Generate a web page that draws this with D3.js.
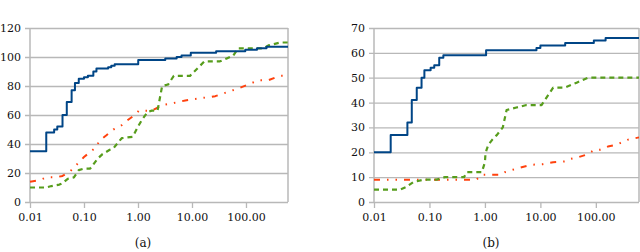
<!DOCTYPE html>
<html>
<head>
<meta charset="utf-8">
<script src="https://cdn.jsdelivr.net/npm/d3@7"></script>
<style>
  body { margin: 0; background: #fff; }
</style>
</head>
<body>
<svg id="chart" width="640" height="252"></svg>
<script>
// ============
// DATA
// ============

// x tick values (log scale) shared by both panels
const xTicks = [0.01, 0.1, 1, 10, 100];
const xMax = 600;

// panel (a)
const aYTicks = [0, 20, 40, 60, 80, 100, 120];
const aBlue = [[0.01,35],[0.02,48],[0.028,50],[0.032,52],[0.04,60],[0.048,69],[0.059,77],[0.068,82],
  [0.08,85],[0.1,86],[0.118,87],[0.149,90],[0.17,92],[0.28,93],[0.32,94],[0.37,95],[1.01,98],
  [3.2,99],[5.2,100],[6.4,101],[9.5,103],[28,104],[97,105],[160,106],[240,107],[600,107]];
const aGreen = [[0.01,10],[0.02,10],[0.025,11],[0.035,12],[0.04,13],[0.05,16],[0.065,17],[0.08,22],
  [0.1,23],[0.13,23],[0.18,30],[0.22,33],[0.3,36],[0.35,37],[0.45,42],[0.5,44],[0.8,45],[1.0,52],
  [1.2,57],[1.5,62],[1.8,63],[2.3,63],[2.8,80],[3.6,81],[4.6,87],[9.2,87],[17,97],[33,97],
  [44,99],[58,101],[72,106],[210,106],[260,108],[430,110],[600,110]];
const aOrange = [[0.01,14],[0.015,15],[0.02,17],[0.03,17],[0.04,18],[0.055,21],[0.07,25],[0.1,31],
  [0.17,38],[0.19,42],[0.26,46],[0.35,50],[0.5,53],[0.57,55],[0.8,59],[1.05,63],[1.8,63],[2.9,67],
  [4.2,68],[7.5,70],[11.5,71],[17.5,72],[27,73],[47,76],[68,78],[110,81],[170,84],[260,84],
  [420,87],[600,87]];

// panel (b)
const bYTicks = [0, 10, 20, 30, 40, 50, 60, 70];
const bBlue = [[0.01,20],[0.02,27],[0.04,32],[0.048,41],[0.059,46],[0.072,50],[0.081,53],[0.105,54],
  [0.122,55],[0.15,58],[0.178,59],[1.05,61],[8.5,62],[10,63],[28,64],[92,65],[150,66],[600,66]];
const bGreen = [[0.01,5],[0.03,5],[0.038,6],[0.051,8],[0.078,9],[0.135,9],[0.19,10],[0.42,10],
  [0.47,12],[0.88,12],[1.0,16],[1.02,19],[1.07,21],[1.15,23],[1.35,25],[1.65,27],[2.1,30],
  [2.46,37],[3.7,38],[5.6,39],[10.5,39],[17,46],[27.5,46],[45,48],[72,50],[600,50]];
const bOrange = [[0.01,9],[0.7,9],[0.85,10.5],[0.9,11],[2.0,11],[2.3,12],[3.2,13],[4.6,14],[7,15],
  [11,15.2],[17,16],[28,16.3],[33,17.2],[48,18],[67,19],[95,21],[118,21],[165,22.3],[232,23],
  [330,24.5],[370,25],[600,26]];

// ============
// DRAW
// ============

const svg = d3.select("#chart");
const gridColor = "#b8b8b8";
const serif = "DejaVu Serif";

function drawPanel(opts) {
  const { left, right, top, bottom, yTicks, series, caption, capX } = opts;

  const x = d3.scaleLog().domain([0.01, xMax]).range([left, right]);
  const y = d3.scaleLinear().domain([0, d3.max(yTicks)]).range([bottom, top]);

  const g = svg.append("g");

  // horizontal gridlines + y labels
  g.append("g")
    .attr("transform", "translate(" + right + ",0)")
    .call(d3.axisLeft(y).tickValues(yTicks).tickSize(right - left + 5).tickPadding(4)
      .tickFormat(d3.format("d")))
    .attr("font-family", serif)
    .attr("font-size", 11)
    .call(a => a.select(".domain").remove())
    .call(a => a.selectAll("line").attr("stroke", gridColor).attr("stroke-width", 1.3))
    .call(a => a.selectAll("text").attr("fill", "#111"));

  // x axis ticks + labels
  g.append("g")
    .attr("transform", "translate(0," + bottom + ")")
    .call(d3.axisBottom(x).tickValues(xTicks).tickSize(6).tickPadding(5)
      .tickFormat(d3.format(".2f")))
    .attr("font-family", serif)
    .attr("font-size", 11)
    .call(a => a.select(".domain").remove())
    .call(a => a.selectAll("line").attr("stroke", gridColor).attr("stroke-width", 1.3))
    .call(a => a.selectAll("text").attr("fill", "#111"));

  // frame verticals
  [left, right].forEach(xx => {
    g.append("line")
      .attr("x1", xx).attr("x2", xx)
      .attr("y1", top).attr("y2", bottom)
      .attr("stroke", gridColor).attr("stroke-width", 1.5);
  });

  // series lines
  series.forEach(s => {
    const line = d3.line()
      .x(d => x(d[0]))
      .y(d => y(d[1]))
      .curve(s.step ? d3.curveStepAfter : d3.curveLinear);
    g.append("path")
      .datum(s.data)
      .attr("d", line)
      .attr("fill", "none")
      .attr("stroke", s.color)
      .attr("stroke-width", s.width)
      .attr("stroke-dasharray", s.dash)
      .attr("stroke-linejoin", "round");
  });

  // caption
  g.append("text")
    .attr("x", capX).attr("y", 247)
    .attr("text-anchor", "middle")
    .attr("font-family", serif)
    .attr("font-size", 12)
    .attr("fill", "#111")
    .text(caption);
}

drawPanel({
  left: 30, right: 288, top: 28, bottom: 202,
  yTicks: aYTicks,
  caption: "(a)", capX: 143,
  series: [
    { data: aOrange, color: "#ff420e", width: 2, dash: "6,7,1.5,7,1.5,7" },
    { data: aGreen, color: "#579d1c", width: 2.2, dash: "5,4" },
    { data: aBlue, color: "#004586", width: 2, dash: null, step: true }
  ]
});

drawPanel({
  left: 374, right: 639, top: 28, bottom: 202,
  yTicks: bYTicks,
  caption: "(b)", capX: 491,
  series: [
    { data: bOrange, color: "#ff420e", width: 2, dash: "6,7,1.5,7,1.5,7" },
    { data: bGreen, color: "#579d1c", width: 2.2, dash: "5,4" },
    { data: bBlue, color: "#004586", width: 2, dash: null, step: true }
  ]
});
</script>
</body>
</html>
